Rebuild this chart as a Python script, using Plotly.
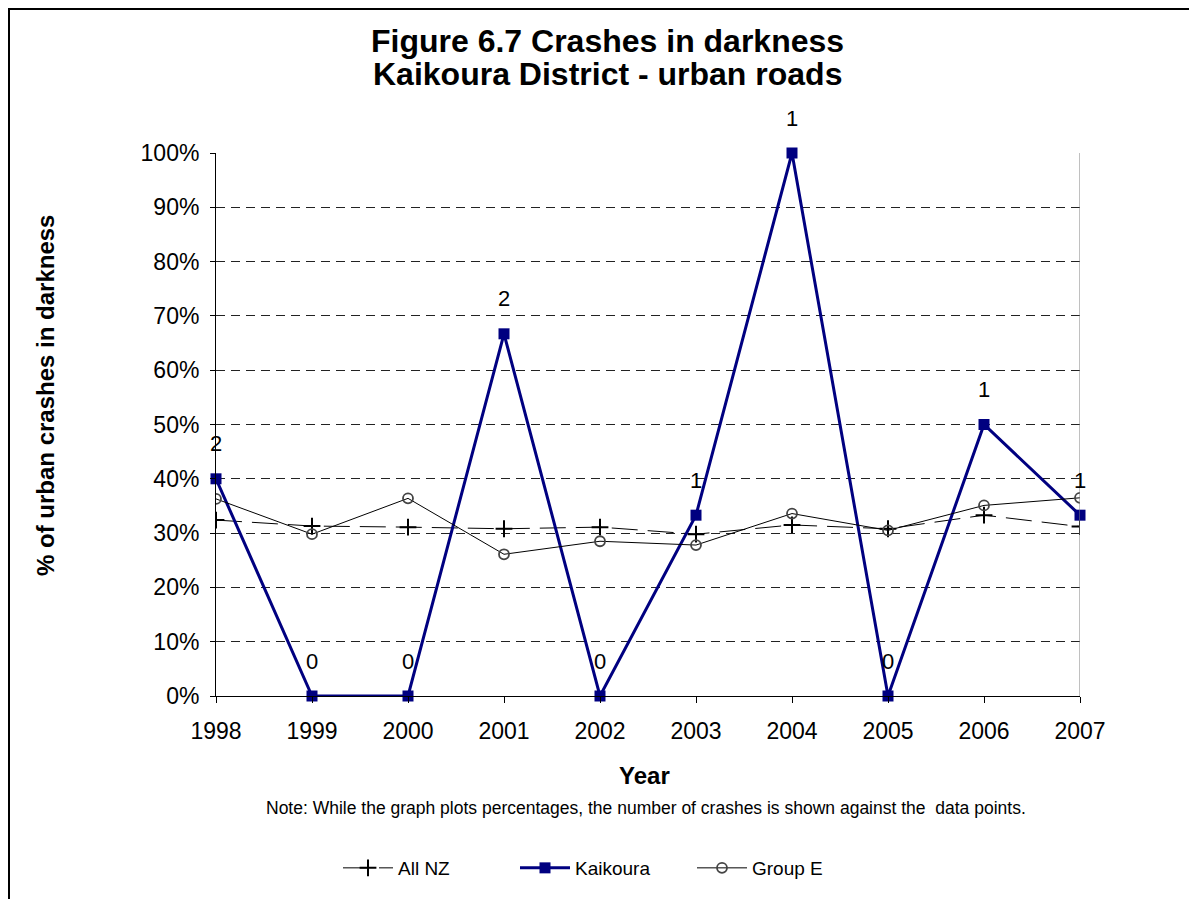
import plotly.graph_objects as go

years = [1998, 1999, 2000, 2001, 2002, 2003, 2004, 2005, 2006, 2007]
all_nz = [0.324, 0.313, 0.311, 0.308, 0.311, 0.298, 0.315, 0.308, 0.333, 0.312]
kaikoura = [0.40, 0.0, 0.0, 0.667, 0.0, 0.333, 1.0, 0.0, 0.50, 0.333]
group_e = [0.363, 0.298, 0.364, 0.261, 0.285, 0.278, 0.336, 0.305, 0.351, 0.365]
crash_counts = ["2", "0", "0", "2", "0", "1", "1", "0", "1", "1"]

FONT = "Liberation Sans, Arial, sans-serif"

# page coords of the plot area (page is offset 8px by the html body margin)
L, R, T, B = 216, 1080, 153, 696
W, H = 1189, 891


def px(xp):
    return (xp - L) / (R - L)


def py(yp):
    return (B - yp) / (B - T)


fig = go.Figure()
fig.add_trace(go.Scatter(x=years, y=all_nz, mode='lines+markers', name='All NZ',
                         line=dict(color='black', width=1, dash='26px,10px'),
                         marker=dict(symbol='cross-thin', size=12, line=dict(color='black', width=2))))
fig.add_trace(go.Scatter(x=years, y=kaikoura, mode='lines+markers', name='Kaikoura',
                         line=dict(color='#000080', width=3),
                         marker=dict(symbol='square', size=11, color='#000080'),
                         cliponaxis=False))
fig.add_trace(go.Scatter(x=years, y=group_e, mode='lines+markers', name='Group E',
                         line=dict(color='black', width=1),
                         marker=dict(symbol='circle-open', size=10, color='#444444', line=dict(width=1.8))))

for yr, v, t in zip(years, kaikoura, crash_counts):
    fig.add_annotation(x=yr, y=v, text=t, showarrow=False, yshift=35, yanchor='middle',
                       font=dict(family=FONT, size=22, color='black'))

fig.update_layout(
    width=W, height=H, autosize=False,
    margin=dict(l=L - 8, r=W - (R - 8), t=T - 8, b=H - (B - 8) - 3),
    paper_bgcolor='white', plot_bgcolor='white',
    font=dict(family=FONT, size=23, color='black'),
    legend=dict(orientation='h', x=px(338), xanchor='left', y=py(868), yanchor='middle',
                font=dict(family=FONT, size=19), itemwidth=50, entrywidth=112,
                traceorder='normal'),
    showlegend=True,
)
fig.update_xaxes(range=[1998, 2007], tickmode='array', tickvals=years, showgrid=False,
                 showline=True, linecolor='black', linewidth=1, ticks='outside', ticklen=6,
                 tickcolor='black', ticklabelstandoff=8, zeroline=False)
fig.update_yaxes(range=[0, 1], tickformat='.0%', dtick=0.1, showgrid=True, gridcolor='#222222',
                 griddash='9px,6px', gridwidth=1, showline=True, linecolor='black', linewidth=1,
                 ticks='outside', ticklen=5, tickcolor='black', ticklabelstandoff=6, zeroline=False)

# right edge of the plot area
fig.add_shape(type='line', xref='x', yref='paper', x0=2007, x1=2007, y0=0, y1=1,
              line=dict(color='#808080', width=1))
# outer chart frame
fig.add_shape(type='rect', xref='paper', yref='paper',
              x0=px(9), x1=px(1300), y0=py(1000), y1=py(9),
              line=dict(color='black', width=2), layer='below')

# title, two lines
fig.add_annotation(text='<b>Figure 6.7 Crashes in darkness</b>', xref='paper', yref='paper',
                   x=px(607), y=py(41), xanchor='center', yanchor='middle', showarrow=False,
                   font=dict(family=FONT, size=32))
fig.add_annotation(text='<b>Kaikoura District - urban roads</b>', xref='paper', yref='paper',
                   x=px(607), y=py(74), xanchor='center', yanchor='middle', showarrow=False,
                   font=dict(family=FONT, size=32))

fig.add_annotation(text='<b>% of urban crashes in darkness</b>', textangle=-90,
                   xref='paper', yref='paper', x=px(45), y=py(396),
                   xanchor='center', yanchor='middle',
                   showarrow=False, font=dict(family=FONT, size=24))
fig.add_annotation(text='<b>Year</b>', xref='paper', yref='paper', x=px(644), y=py(775),
                   xanchor='center', yanchor='middle',
                   showarrow=False, font=dict(family=FONT, size=24))
fig.add_annotation(text='Note: While the graph plots percentages, the number of crashes is shown against the  data points.',
                   xref='paper', yref='paper', x=px(646), y=py(808),
                   xanchor='center', yanchor='middle',
                   showarrow=False, font=dict(family=FONT, size=17.5))

fig.write_html("out.html")
